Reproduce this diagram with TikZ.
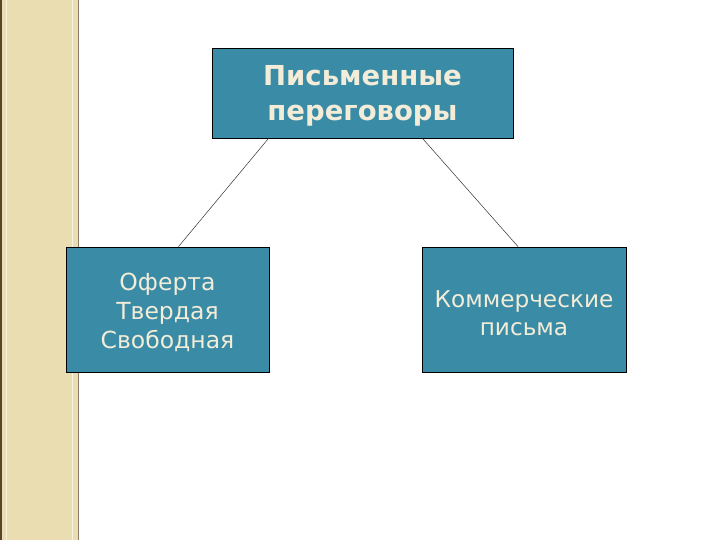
\documentclass[tikz,border=0pt]{standalone}
\usepackage{fontspec}
\setmainfont{DejaVu Sans}
\definecolor{boxfill}{HTML}{3A8CA6}
\definecolor{txt}{HTML}{F2ECD8}
\definecolor{strip}{HTML}{EBDDB2}
\definecolor{stripedge}{HTML}{5A4528}
\tikzset{
  box/.style={draw=black, line width=0.8pt, fill=boxfill, inner sep=0pt},
  boxtext/.style={text=txt, align=center, inner sep=0pt},
  conn/.style={draw=black!80, line width=0.5pt}
}
\begin{document}
\begin{tikzpicture}[x=1pt,y=-1pt]
\useasboundingbox (0,0) rectangle (720,540);
\fill[white] (0,0) rectangle (720,540);
% left strip
\fill[strip] (0,0) rectangle (78,540);
\fill[stripedge] (0,0) rectangle (2,540);
\draw[stripedge!70, line width=1pt] (78,0) -- (78,540);
\draw[white!60!strip, line width=1pt] (6,0) -- (6,540);
\draw[white!60!strip, line width=1pt] (72,0) -- (72,540);
% boxes
\node[box, minimum width=301pt, minimum height=90pt] (top) at (362.5,93) {};
\node[boxtext, font=\fontsize{27.5}{35}\selectfont\bfseries] (toptext) at (362.5,96) {Письменные\\переговоры};
\node[box, minimum width=203pt, minimum height=125pt] (left) at (167.5,309.5) {};
\node[boxtext, font=\fontsize{23.5}{29}\selectfont] (lefttext) at (167.5,312.5) {Оферта\\Твердая\\Свободная};
\node[box, minimum width=204pt, minimum height=125pt] (right) at (524,309.5) {};
\node[boxtext, font=\fontsize{23.2}{27.5}\selectfont] (righttext) at (524,313) {Коммерческие\\письма};
% connectors
\draw[conn] ([xshift=-94pt]top.south) -- ([xshift=11pt]left.north);
\draw[conn] ([xshift=60pt]top.south) -- ([xshift=-6pt]right.north);
\end{tikzpicture}
\end{document}
